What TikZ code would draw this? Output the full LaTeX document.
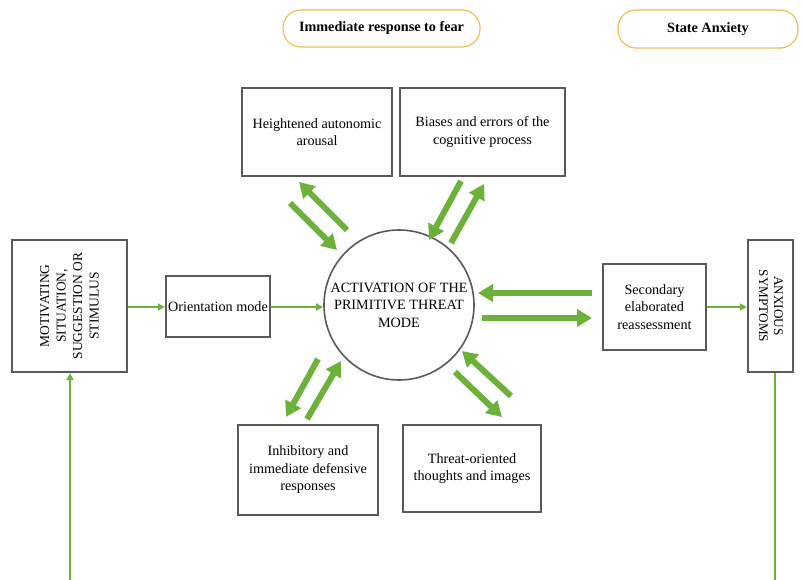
\documentclass[tikz,border=0pt]{standalone}
\usepackage{fontspec}
\setmainfont{Liberation Serif}
\usetikzlibrary{arrows.meta}
\definecolor{grn}{RGB}{108,178,58}
\definecolor{gold}{RGB}{236,192,82}
\definecolor{bord}{RGB}{90,90,90}
\begin{document}
\begin{tikzpicture}[x=1pt,y=-1pt,
  box/.style={draw=bord,line width=2.2pt,fill=white,align=center,inner sep=0pt,
    font=\fontsize{14.2}{17.5}\selectfont},
  pill/.style={draw=gold,line width=1.2pt,rounded corners=18pt,fill=white,
    font=\bfseries\fontsize{14.2}{16}\selectfont,inner sep=0pt},
  thin/.style={draw=grn,line width=1.6pt,-{Triangle[width=7pt,length=7pt]}},
  thick/.style={draw=grn,line width=6pt,-{Triangle[width=17pt,length=15pt]}},
  plain/.style={draw=grn,line width=1.6pt}]
\useasboundingbox[fill=white] (0,0) rectangle (803,580);

% pills
\node[pill,minimum width=197pt,minimum height=37pt] (imm) at (381.5,28.5) {Immediate response to fear};
\node[pill,minimum width=180pt,minimum height=38pt] (sa) at (708,29) {State Anxiety};

% boxes
\node[box,minimum width=150pt,minimum height=88pt] (har) at (317,132) {Heightened autonomic\\arousal};
\node[box,minimum width=165pt,minimum height=88pt] (bec) at (482.5,132) {Biases and errors of the\\cognitive process};
\node[box,minimum width=115pt,minimum height=132pt] (mot) at (69.5,306) {};
\node[rotate=90,align=center,inner sep=0pt,font=\fontsize{13.5}{16.5}\selectfont] (mottxt) at (69.5,306) {MOTIVATING\\SITUATION,\\SUGGESTION OR\\STIMULUS};
\node[box,minimum width=104pt,minimum height=61pt] (ori) at (218,306.5) {Orientation mode};
\node[draw=bord,line width=1.6pt,circle,minimum size=150pt,inner sep=0pt,align=center,
  font=\fontsize{14.2}{17.5}\selectfont] (act) at (399,305) {ACTIVATION OF THE\\PRIMITIVE THREAT\\MODE};
\node[box,minimum width=103pt,minimum height=86pt] (sec) at (654.5,307) {Secondary\\elaborated\\reassessment};
\node[box,minimum width=45pt,minimum height=132pt] (anx) at (770.5,306) {};
\node[rotate=-90,align=center,inner sep=0pt,font=\fontsize{13.2}{15}\selectfont] (anxtxt) at (771,306) {ANXIOUS\\SYMPTOMS};
\node[box,minimum width=140pt,minimum height=90pt] (inh) at (308,470) {Inhibitory and\\immediate defensive\\responses};
\node[box,minimum width=138pt,minimum height=87pt] (thr) at (472,468.5) {Threat-oriented\\thoughts and images};

% thin connectors
\draw[thin] (mot.east |- 0,307) -- (ori.west |- 0,307);
\draw[thin] (ori.east |- 0,307) -- (act.west |- 0,307);
\draw[thin] (sec.east |- 0,307) -- (anx.west |- 0,307);
\coordinate (bl) at (70,580);
\coordinate (br) at (775,580);
\draw[thin] (bl) -- (mot.south -| bl);
\draw[plain] (br) -- (anx.south -| br);

% thick arrows: circle <-> secondary
\coordinate (s1) at (592,293); \coordinate (c1) at (478,293);
\coordinate (c2) at (482,318); \coordinate (s2) at (592,318);
\draw[thick] (s1) -- (c1);
\draw[thick] (c2) -- (s2);
% top-left
\coordinate (a1) at (290,203); \coordinate (a2) at (337,250);
\coordinate (a3) at (347,230); \coordinate (a4) at (299,182);
\draw[thick] (a1) -- (a2);
\draw[thick] (a3) -- (a4);
% top-right
\coordinate (b1) at (461,181); \coordinate (b2) at (429,240);
\coordinate (b3) at (451,243); \coordinate (b4) at (484,184);
\draw[thick] (b1) -- (b2);
\draw[thick] (b3) -- (b4);
% bottom-left
\coordinate (d1) at (318,359); \coordinate (d2) at (286,417);
\coordinate (d3) at (307,419); \coordinate (d4) at (341,361);
\draw[thick] (d1) -- (d2);
\draw[thick] (d3) -- (d4);
% bottom-right
\coordinate (e1) at (511,396); \coordinate (e2) at (462,351);
\coordinate (e3) at (455,372); \coordinate (e4) at (502,417);
\draw[thick] (e1) -- (e2);
\draw[thick] (e3) -- (e4);
\end{tikzpicture}
\end{document}
